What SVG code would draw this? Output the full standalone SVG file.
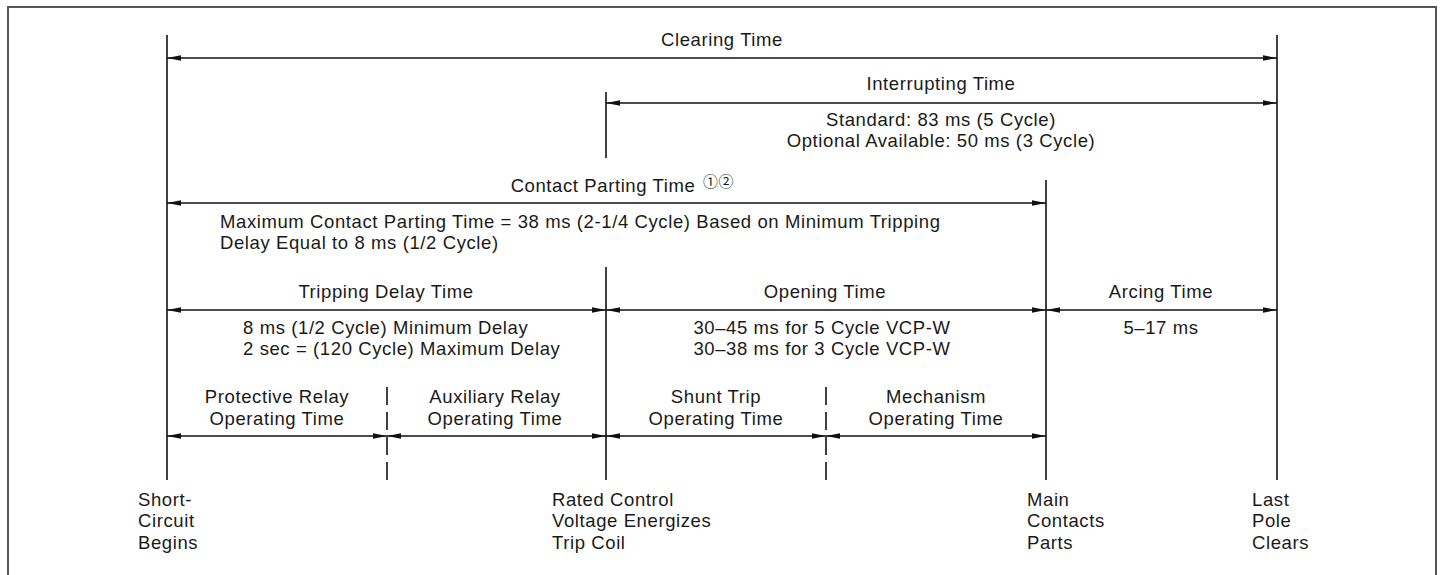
<svg xmlns="http://www.w3.org/2000/svg" width="1441" height="575" viewBox="0 0 1441 575">
<style>
text{font-family:"Liberation Sans",Arial,sans-serif;font-size:18.5px;letter-spacing:0.6px;fill:#1a1a1a}
.m{text-anchor:middle}
.v{stroke:#111;stroke-width:1.6;fill:none}
.d{stroke:#111;stroke-width:1.6;stroke-dasharray:18 7;fill:none}
.a{stroke:#111;stroke-width:1.3;fill:none;marker-start:url(#ah);marker-end:url(#ah)}
.sup{font-family:"Noto Sans CJK JP","DejaVu Sans",sans-serif;font-size:15px;letter-spacing:0.5px}
</style>
<defs>
<marker id="ah" markerUnits="userSpaceOnUse" markerWidth="14" markerHeight="6" refX="13" refY="2.5" orient="auto-start-reverse" viewBox="0 0 13 5">
<path d="M0,0 L13,2.5 L0,5 Z" fill="#111"/>
</marker>
</defs>
<rect width="1441" height="575" fill="#fff"/>
<path d="M8,575 V7 H1436 V575" fill="none" stroke="#555" stroke-width="2"/>
<g id="connectors">
<line class="v" x1="167" y1="35" x2="167" y2="480"/>
<line class="v" x1="1277" y1="35" x2="1277" y2="480"/>
<line class="v" x1="606" y1="92" x2="606" y2="158"/>
<line class="v" x1="606" y1="267" x2="606" y2="480"/>
<line class="v" x1="1046" y1="180" x2="1046" y2="480"/>
<line class="d" x1="387" y1="387" x2="387" y2="480"/>
<line class="d" x1="826" y1="387" x2="826" y2="480"/>
<line class="a" x1="167" y1="58" x2="1277" y2="58"/>
<line class="a" x1="606" y1="103" x2="1277" y2="103"/>
<line class="a" x1="167" y1="203" x2="1046" y2="203"/>
<line class="a" x1="167" y1="310" x2="606" y2="310"/>
<line class="a" x1="606" y1="310" x2="1046" y2="310"/>
<line class="a" x1="1046" y1="310" x2="1277" y2="310"/>
<line class="a" x1="167" y1="436" x2="387" y2="436"/>
<line class="a" x1="387" y1="436" x2="606" y2="436"/>
<line class="a" x1="606" y1="436" x2="826" y2="436"/>
<line class="a" x1="826" y1="436" x2="1046" y2="436"/>
</g>
<g id="clearing"><text class="m" x="722" y="46">Clearing Time</text></g>
<g id="interrupting">
<text class="m" x="941" y="90">Interrupting Time</text>
<text class="m" x="941" y="126">Standard: 83 ms (5 Cycle)</text>
<text class="m" x="941" y="147">Optional Available: 50 ms (3 Cycle)</text>
</g>
<g id="contact-parting">
<text class="m" x="603" y="192">Contact Parting Time</text>
<text class="sup" x="703" y="187">①②</text>
<text x="220" y="228">Maximum Contact Parting Time = 38 ms (2-1/4 Cycle) Based on Minimum Tripping</text>
<text x="220" y="249">Delay Equal to 8 ms (1/2 Cycle)</text>
</g>
<g id="tripping-delay">
<text class="m" x="386" y="298">Tripping Delay Time</text>
<text x="243" y="334">8 ms (1/2 Cycle) Minimum Delay</text>
<text x="243" y="355">2 sec = (120 Cycle) Maximum Delay</text>
</g>
<g id="opening">
<text class="m" x="825" y="298">Opening Time</text>
<text class="m" x="822" y="334">30–45 ms for 5 Cycle VCP-W</text>
<text class="m" x="822" y="355">30–38 ms for 3 Cycle VCP-W</text>
</g>
<g id="arcing">
<text class="m" x="1161" y="298">Arcing Time</text>
<text class="m" x="1161" y="334">5–17 ms</text>
</g>
<g id="protective-relay">
<text class="m" x="277" y="403">Protective Relay</text>
<text class="m" x="277" y="425">Operating Time</text>
</g>
<g id="auxiliary-relay">
<text class="m" x="495" y="403">Auxiliary Relay</text>
<text class="m" x="495" y="425">Operating Time</text>
</g>
<g id="shunt-trip">
<text class="m" x="716" y="403">Shunt Trip</text>
<text class="m" x="716" y="425">Operating Time</text>
</g>
<g id="mechanism">
<text class="m" x="936" y="403">Mechanism</text>
<text class="m" x="936" y="425">Operating Time</text>
</g>
<g id="short-circuit">
<text x="138" y="506">Short-</text>
<text x="138" y="527">Circuit</text>
<text x="138" y="549">Begins</text>
</g>
<g id="rated-control">
<text x="552" y="506">Rated Control</text>
<text x="552" y="527">Voltage Energizes</text>
<text x="552" y="549">Trip Coil</text>
</g>
<g id="main-contacts">
<text x="1027" y="506">Main</text>
<text x="1027" y="527">Contacts</text>
<text x="1027" y="549">Parts</text>
</g>
<g id="last-pole">
<text x="1252" y="506">Last</text>
<text x="1252" y="527">Pole</text>
<text x="1252" y="549">Clears</text>
</g>
</svg>
